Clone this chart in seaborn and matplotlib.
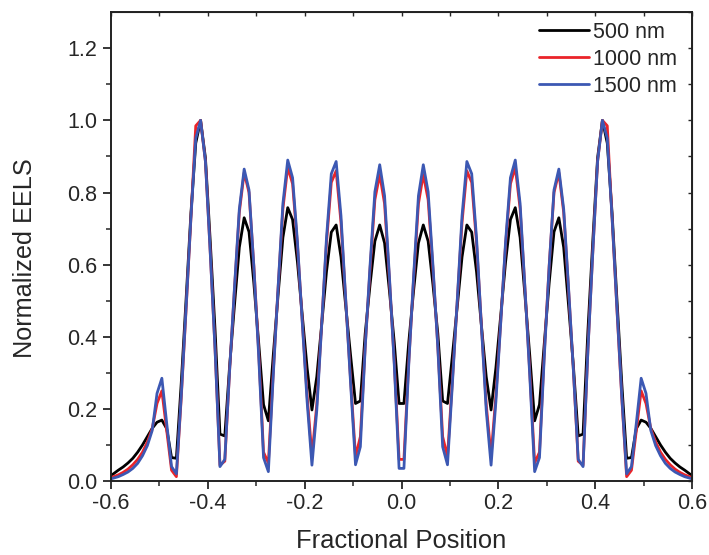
import numpy as np
import pandas as pd
import matplotlib
matplotlib.use("Agg")
import matplotlib.pyplot as plt
import seaborn as sns

# sample positions: 0.01 step, offset by half a step, plus the two frame edges
positions = np.concatenate([[-0.6], np.round(np.linspace(-0.595, 0.595, 120), 3), [0.6]])

# normalized EELS profiles, from x=-0.60 to x=0.60
eels_500 = [
    0.015, 0.020, 0.030, 0.039, 0.050, 0.063, 0.080, 0.100, 0.123, 0.146,
    0.163, 0.169, 0.145, 0.065, 0.063, 0.271, 0.503, 0.742, 0.937, 1.000,
    0.896, 0.663, 0.416, 0.130, 0.125, 0.320, 0.488, 0.648, 0.730, 0.691,
    0.549, 0.383, 0.212, 0.167, 0.347, 0.515, 0.675, 0.758, 0.725, 0.608,
    0.460, 0.314, 0.197, 0.289, 0.432, 0.580, 0.690, 0.710, 0.621, 0.482,
    0.346, 0.215, 0.222, 0.409, 0.544, 0.665, 0.710, 0.660, 0.528, 0.385,
    0.215,
    0.215, 0.385, 0.528, 0.660, 0.710, 0.665, 0.544, 0.409, 0.222, 0.215,
    0.346, 0.482, 0.621, 0.710, 0.690, 0.580, 0.432, 0.289, 0.197, 0.314,
    0.460, 0.608, 0.725, 0.758, 0.675, 0.515, 0.347, 0.167, 0.212, 0.383,
    0.549, 0.691, 0.730, 0.648, 0.488, 0.320, 0.125, 0.130, 0.416, 0.663,
    0.896, 1.000, 0.937, 0.742, 0.503, 0.271, 0.063, 0.065, 0.145, 0.169,
    0.163, 0.146, 0.123, 0.100, 0.080, 0.063, 0.050, 0.039, 0.030, 0.020,
    0.015,
]
eels_1000 = [
    0.010, 0.012, 0.017, 0.024, 0.033, 0.045, 0.060, 0.080, 0.108, 0.145,
    0.215, 0.250, 0.140, 0.030, 0.012, 0.230, 0.475, 0.728, 0.985, 1.000,
    0.886, 0.633, 0.363, 0.044, 0.055, 0.308, 0.532, 0.745, 0.855, 0.800,
    0.596, 0.358, 0.080, 0.050, 0.300, 0.533, 0.755, 0.870, 0.824, 0.656,
    0.444, 0.237, 0.070, 0.212, 0.433, 0.660, 0.828, 0.860, 0.717, 0.495,
    0.277, 0.068, 0.123, 0.374, 0.587, 0.780, 0.850, 0.769, 0.560, 0.331,
    0.060,
    0.060, 0.331, 0.560, 0.769, 0.850, 0.780, 0.587, 0.374, 0.123, 0.068,
    0.277, 0.495, 0.717, 0.860, 0.828, 0.660, 0.433, 0.212, 0.070, 0.237,
    0.444, 0.656, 0.824, 0.870, 0.755, 0.533, 0.300, 0.050, 0.080, 0.358,
    0.596, 0.800, 0.855, 0.745, 0.532, 0.308, 0.055, 0.044, 0.363, 0.633,
    0.886, 1.000, 0.985, 0.728, 0.475, 0.230, 0.012, 0.030, 0.140, 0.250,
    0.215, 0.145, 0.108, 0.080, 0.060, 0.045, 0.033, 0.024, 0.017, 0.012,
    0.010,
]
eels_1500 = [
    0.006, 0.008, 0.012, 0.018, 0.025, 0.035, 0.049, 0.070, 0.098, 0.140,
    0.243, 0.285, 0.160, 0.040, 0.020, 0.235, 0.479, 0.730, 0.950, 1.000,
    0.886, 0.631, 0.361, 0.040, 0.060, 0.308, 0.537, 0.754, 0.865, 0.807,
    0.595, 0.347, 0.065, 0.026, 0.290, 0.535, 0.769, 0.890, 0.841, 0.664,
    0.440, 0.221, 0.044, 0.196, 0.430, 0.673, 0.852, 0.886, 0.735, 0.498,
    0.267, 0.045, 0.095, 0.370, 0.597, 0.802, 0.877, 0.791, 0.568, 0.324,
    0.035,
    0.035, 0.324, 0.568, 0.791, 0.877, 0.802, 0.597, 0.370, 0.095, 0.045,
    0.267, 0.498, 0.735, 0.886, 0.852, 0.673, 0.430, 0.196, 0.044, 0.221,
    0.440, 0.664, 0.841, 0.890, 0.769, 0.535, 0.290, 0.026, 0.065, 0.347,
    0.595, 0.807, 0.865, 0.754, 0.537, 0.308, 0.060, 0.040, 0.361, 0.631,
    0.886, 1.000, 0.950, 0.730, 0.479, 0.235, 0.020, 0.040, 0.160, 0.285,
    0.243, 0.140, 0.098, 0.070, 0.049, 0.035, 0.025, 0.018, 0.012, 0.008,
    0.006,
]

series_names = ["500 nm", "1000 nm", "1500 nm"]
series_colors = ["#000000", "#ea2429", "#3c58b3"]

sns.set_style("ticks")
plt.rcParams["font.family"] = ["Liberation Sans", "DejaVu Sans"]

df = pd.concat([
    pd.DataFrame({"Fractional Position": positions, "Normalized EELS": vals, "series": name})
    for name, vals in zip(series_names, [eels_500, eels_1000, eels_1500])
])

fig = plt.figure(figsize=(7.09, 5.55), dpi=100)
ax = fig.add_axes([0.1566, 0.1333, 0.8194, 0.8447])

sns.lineplot(data=df, x="Fractional Position", y="Normalized EELS", hue="series",
             palette=dict(zip(series_names, series_colors)), estimator=None,
             sort=False, linewidth=2.0, ax=ax)

ax.set_xlim(-0.6, 0.6)
ax.set_ylim(0, 1.3)
ax.set_xticks(np.arange(-0.6, 0.61, 0.2))
ax.set_xticks(np.arange(-0.5, 0.6, 0.2), minor=True)
ax.set_yticks(np.arange(0, 1.21, 0.2))
ax.set_yticks(np.arange(0.1, 1.3, 0.2), minor=True)
ax.xaxis.set_major_formatter(matplotlib.ticker.FormatStrFormatter("%.1f"))
ax.yaxis.set_major_formatter(matplotlib.ticker.FormatStrFormatter("%.1f"))

for s in ax.spines.values():
    s.set_linewidth(1.4)
    s.set_color("#222222")
ax.tick_params(which="major", direction="out", length=5.5, width=1.3, labelsize=15.5, pad=3)
ax.tick_params(axis="y", which="major", pad=4.5)
ax.tick_params(which="minor", direction="out", length=3.5, width=1.1)

# inward ticks on the top and right frame
top = ax.secondary_xaxis("top")
top.set_xticks(np.arange(-0.6, 0.61, 0.1))
top.tick_params(direction="in", length=3, width=1.0, labeltop=False)
right = ax.secondary_yaxis("right")
right.set_yticks(np.arange(0, 1.31, 0.1))
right.tick_params(direction="in", length=3, width=1.0, labelright=False)

ax.set_xlabel("Fractional Position", fontsize=18.4, labelpad=11)
ax.set_ylabel("Normalized EELS", fontsize=18.2)
ax.yaxis.set_label_coords(-0.128, 0.475)

ax.legend(loc="upper right", frameon=False, fontsize=15.5, handlelength=2.3,
          handletextpad=0.2, labelspacing=0.28, borderaxespad=0, borderpad=0.4,
          bbox_to_anchor=(0.989, 0.998))

fig.savefig("out.png", dpi=100)
